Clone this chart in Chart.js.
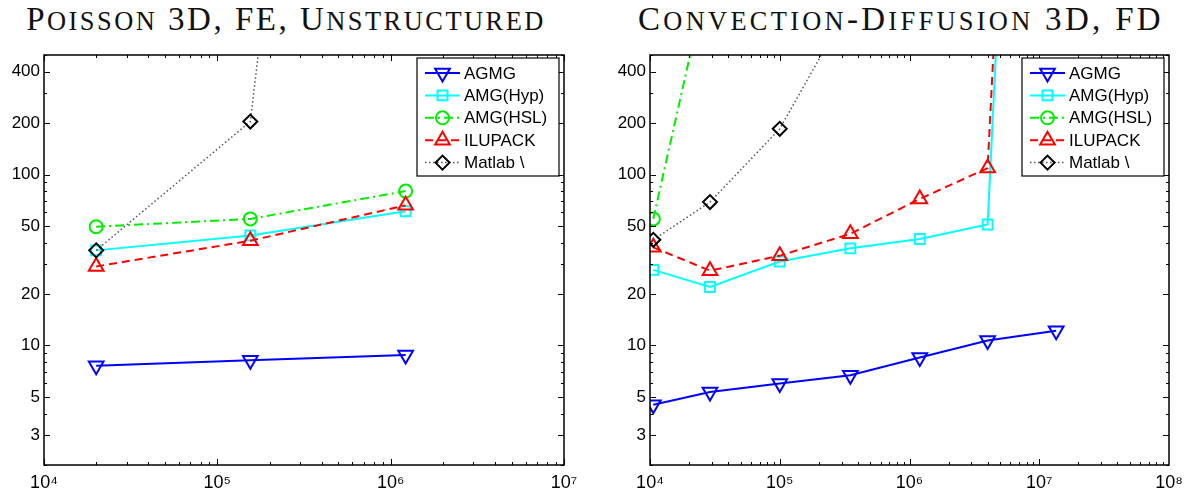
<!DOCTYPE html>
<html>
<head>
<meta charset="utf-8">
<script src="https://cdn.jsdelivr.net/npm/chart.js@4.4.0/dist/chart.umd.min.js"></script>
<style>
  body { margin: 0; background: #fff; }
  #wrap { position: relative; width: 1192px; height: 499px; overflow: hidden; }
  canvas { position: absolute; top: 0; }
  .ttl { position: absolute; top: 2px; font-family: "Liberation Serif", "DejaVu Serif", serif;
         font-size: 33px; line-height: 34px; letter-spacing: 2.5px; color: #111;
         text-align: center; white-space: nowrap; }
  .sc { font-size: 0.8em; text-transform: uppercase; }
</style>
</head>
<body>
<div id="wrap">
  <div class="ttl" style="left:26px;width:520px">P<span class="sc">oisson</span> 3D, FE, U<span class="sc">nstructured</span></div>
  <div class="ttl" style="left:638px;width:519px;letter-spacing:3.3px">C<span class="sc">onvection</span>-D<span class="sc">iffusion</span> 3D, FD</div>
  <canvas id="left" width="596" height="499" style="left:0"></canvas>
  <canvas id="right" width="586" height="499" style="left:606px"></canvas>
</div>
<script>
// solver names (legend)
var names = ['AGMG', 'AMG(Hyp)', 'AMG(HSL)', 'ILUPACK', 'Matlab \\'];

// left: Poisson 3D, FE, unstructured
var sizeL = [2.0e4, 1.55e5, 1.22e6];
var agmgL = [7.6, 8.2, 8.8];
var hypL  = [36, 44, 61];
var hslL  = [49.5, 55, 80];
var iluL  = [29, 41, 66];
var matL  = [36, 204, 1e10];

// right: convection-diffusion 3D, FD
var sizeR = [1.06e4, 2.9e4, 1.0e5, 3.5e5, 1.2e6, 4.0e6, 1.35e7];
var agmgR = [4.5, 5.35, 6.0, 6.7, 8.5, 10.7, 12.2];
var hypR  = [27.7, 22, 31, 37, 42, 51, 1e10];
var hslR  = [55, 1650, null, null, null, null, null];
var iluR  = [37.5, 27.4, 33.5, 45, 72, 109, 1e10];
var matR  = [41.5, 69, 185, 1000, null, null, null];

var yTicks  = [3, 5, 10, 20, 50, 100, 200, 400];
var xTicksL = [1e4, 1e5, 1e6, 1e7];
var xTicksR = [1e4, 1e5, 1e6, 1e7, 1e8];

var styles = [
  {color: '#0000ff', dash: [],           shape: 'triangle', rot: 180, r: 8.5, w: 2},
  {color: '#00ffff', dash: [],           shape: 'rect',     rot: 0,   r: 7,   w: 2},
  {color: '#00ee00', dash: [9, 4, 2, 4], shape: 'circle',   rot: 0,   r: 6.5, w: 2},
  {color: '#ff0000', dash: [8, 5],       shape: 'triangle', rot: 0,   r: 8.5, w: 2},
  {color: '#000000', dash: [1.5, 2.5],   shape: 'rectRot',  rot: 0,   r: 7,   w: 1.5, line: '#555'}
];

var sups = {4: '\u2074', 5: '\u2075', 6: '\u2076', 7: '\u2077', 8: '\u2078'};

function pts(xs, ys) {
  var out = [];
  xs.forEach(function (x, i) { if (ys[i] != null) out.push({x: x, y: ys[i]}); });
  return out;
}

function makeSets(xs, series) {
  return series.map(function (ys, i) {
    var s = styles[i];
    return {
      label: names[i],
      data: pts(xs, ys),
      borderColor: s.line || s.color,
      borderWidth: s.w,
      borderDash: s.dash,
      pointStyle: s.shape,
      pointRotation: s.rot,
      pointRadius: s.r,
      pointBorderColor: s.color,
      pointBorderWidth: 2,
      pointBackgroundColor: 'rgba(0,0,0,0)',
      fill: false,
      tension: 0,
      order: 5 - i
    };
  });
}

function marker(ctx, shape, rot, r, x, y) {
  ctx.beginPath();
  if (shape === 'circle') {
    ctx.arc(x, y, r, 0, Math.PI * 2);
  } else if (shape === 'rect') {
    var s = r * Math.SQRT1_2;
    ctx.rect(x - s, y - s, 2 * s, 2 * s);
  } else if (shape === 'rectRot') {
    ctx.moveTo(x - r, y); ctx.lineTo(x, y - r); ctx.lineTo(x + r, y); ctx.lineTo(x, y + r);
    ctx.closePath();
  } else {
    var a = rot * Math.PI / 180;
    for (var k = 0; k < 3; k++) {
      var t = a + k * 2 * Math.PI / 3;
      if (k === 0) ctx.moveTo(x + Math.sin(t) * r, y - Math.cos(t) * r);
      else ctx.lineTo(x + Math.sin(t) * r, y - Math.cos(t) * r);
    }
    ctx.closePath();
  }
  ctx.stroke();
}

// matlab style box with inward ticks on all four sides
var framePlugin = {
  id: 'frame',
  afterDatasetsDraw: function (chart) {
    var ctx = chart.ctx, a = chart.chartArea;
    var xs = chart.scales.x, ys = chart.scales.y;
    ctx.save();
    ctx.strokeStyle = '#000';
    ctx.lineWidth = 1;
    ctx.beginPath();
    for (var d = 4; d < 8; d++) {
      for (var k = 1; k < 10; k++) {
        var v = k * Math.pow(10, d);
        if (v < xs.min || v > xs.max) continue;
        var len = k === 1 ? 6 : 3;
        var px = Math.round(xs.getPixelForValue(v)) + 0.5;
        ctx.moveTo(px, a.bottom); ctx.lineTo(px, a.bottom - len);
        ctx.moveTo(px, a.top); ctx.lineTo(px, a.top + len);
      }
    }
    for (var e = 0; e < 3; e++) {
      for (var m = 1; m < 10; m++) {
        var w = m * Math.pow(10, e);
        if (w < ys.min || w > ys.max) continue;
        var L = yTicks.indexOf(w) >= 0 ? 6 : 3;
        var py = Math.round(ys.getPixelForValue(w)) + 0.5;
        ctx.moveTo(a.left, py); ctx.lineTo(a.left + L, py);
        ctx.moveTo(a.right, py); ctx.lineTo(a.right - L, py);
      }
    }
    ctx.stroke();
    ctx.lineWidth = 1.5;
    ctx.strokeRect(a.left, a.top, a.right - a.left, a.bottom - a.top);
    ctx.restore();
  }
};

var legendPlugin = {
  id: 'boxLegend',
  afterDraw: function (chart) {
    var ctx = chart.ctx, a = chart.chartArea, sets = chart.data.datasets;
    var bw = 142, bh = 118, bx = a.right - 5 - bw, by = a.top + 3;
    ctx.save();
    ctx.fillStyle = '#fff';
    ctx.fillRect(bx, by, bw, bh);
    ctx.strokeStyle = '#000';
    ctx.lineWidth = 1.2;
    ctx.strokeRect(bx, by, bw, bh);
    ctx.font = '17px "Liberation Sans", Arial, sans-serif';
    ctx.textBaseline = 'middle';
    sets.forEach(function (ds, i) {
      var cy = by + 15 + i * 22.4;
      ctx.strokeStyle = ds.borderColor;
      ctx.lineWidth = ds.borderWidth;
      ctx.setLineDash(ds.borderDash);
      ctx.beginPath(); ctx.moveTo(bx + 8, cy); ctx.lineTo(bx + 43, cy); ctx.stroke();
      ctx.setLineDash([]);
      ctx.strokeStyle = ds.pointBorderColor;
      ctx.lineWidth = 2;
      marker(ctx, ds.pointStyle, ds.pointRotation, ds.pointRadius, bx + 25.5, cy);
      ctx.fillStyle = '#000';
      ctx.fillText(ds.label, bx + 47, cy + 1);
    });
    ctx.restore();
  }
};

function opts(xTicks, xMax, padRight) {
  var tickFont = {family: '"Liberation Sans", Arial, sans-serif', size: 17};
  return {
    responsive: false,
    animation: false,
    layout: {padding: {top: 55, right: padRight, left: 0, bottom: 0}},
    plugins: {legend: {display: false}, tooltip: {enabled: false}},
    scales: {
      x: {
        type: 'logarithmic', min: 1e4, max: xMax,
        afterBuildTicks: function (s) { s.ticks = xTicks.map(function (v) { return {value: v}; }); },
        afterFit: function (s) { s.height = 34; },
        grid: {display: false, drawTicks: false},
        border: {display: false},
        ticks: {
          autoSkip: false, maxRotation: 0, padding: 7, color: '#000',
          font: {family: '"Liberation Sans", Arial, sans-serif', size: 18},
          callback: function (v) { return '10' + sups[Math.round(Math.log10(v))]; }
        }
      },
      y: {
        type: 'logarithmic', min: 2, max: 500,
        afterBuildTicks: function (s) { s.ticks = yTicks.map(function (v) { return {value: v}; }); },
        afterFit: function (s) { s.width = 44; },
        grid: {display: false, drawTicks: false},
        border: {display: false},
        ticks: {
          autoSkip: false, padding: 4, color: '#000', font: tickFont,
          callback: function (v) { return String(v); }
        }
      }
    }
  };
}

new Chart(document.getElementById('left'), {
  type: 'line',
  data: {datasets: makeSets(sizeL, [agmgL, hypL, hslL, iluL, matL])},
  options: opts(xTicksL, 1e7, 32),
  plugins: [framePlugin, legendPlugin]
});

new Chart(document.getElementById('right'), {
  type: 'line',
  data: {datasets: makeSets(sizeR, [agmgR, hypR, hslR, iluR, matR])},
  options: opts(xTicksR, 1e8, 23),
  plugins: [framePlugin, legendPlugin]
});
</script>
</body>
</html>
